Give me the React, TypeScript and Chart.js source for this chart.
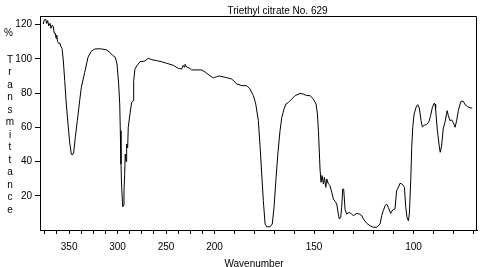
import React, { useEffect, useRef } from "react";
import { Chart, registerables } from "chart.js";

Chart.register(...registerables);

// Wavenumber (x10 cm^-1) and % transmittance
const wavenumber = [
  376.6, 375.6, 374.1, 373.1, 372.1, 371.0, 369.7, 368.7, 367.3, 366.3,
  365.3, 364.2, 363.5, 362.8, 361.8, 360.7, 359.4, 358.4, 357.3, 356.0,
  354.5, 352.9, 351.1, 349.4, 347.7, 346.7, 345.3, 343.6, 341.5, 339.1,
  337.4, 333.9, 330.5, 327.1, 323.6, 318.5, 311.6, 308.1, 304.7, 302.4,
  300.6, 298.9, 297.8, 297.2, 296.5, 295.8, 294.7, 293.7, 293.4, 292.7,
  292.1, 291.3, 291.0, 290.3, 289.6, 289.0, 287.2, 285.5, 284.1, 283.4,
  282.1, 280.3, 276.9, 271.8, 268.4, 264.8, 259.7, 254.5, 249.4, 242.6,
  237.4, 233.9, 232.3, 231.2, 230.5, 228.8, 225.4, 223.6, 213.3, 209.8,
  204.7, 201.3, 200.0, 198.9, 197.7, 194.7, 191.4, 188.8, 186.3, 183.8,
  182.2, 180.5, 179.3, 178.0, 177.1, 176.3, 175.5, 174.6, 173.8, 172.1,
  171.0, 170.1, 169.2, 168.2, 167.1, 166.2, 165.1, 164.1, 162.9, 161.2,
  159.5, 157.0, 155.4, 153.7, 152.0, 150.4, 149.0, 148.3, 147.8, 147.3,
  147.0, 146.5, 146.0, 145.3, 144.8, 144.1, 143.6, 142.8, 142.0, 141.1,
  140.3, 139.4, 138.6, 137.8, 137.3, 136.6, 136.1, 135.6, 135.1, 134.4,
  133.6, 132.3, 131.1, 130.3, 128.5, 127.2, 126.0, 125.2, 123.5, 121.9,
  120.2, 118.5, 116.8, 116.0, 115.2, 114.3, 113.5, 112.7, 111.5, 110.5,
  109.3, 108.5, 107.6, 106.8, 105.9, 105.1, 104.6, 103.9, 103.3, 102.6,
  102.1, 101.4, 100.9, 100.4, 99.7, 98.7, 97.9, 97.1, 96.2, 95.6,
  94.6, 93.4, 92.2, 91.4, 90.6, 89.7, 89.2, 88.9, 88.0, 87.2,
  86.6, 85.9, 85.1, 84.2, 83.4, 83.1, 82.5, 81.7, 80.8, 80.0,
  79.1, 78.3, 77.5, 76.6, 76.1, 75.0, 74.1, 72.8, 71.6, 70.5,
];
const transmittance = [
  120.3, 122.7, 123.1, 120.7, 122.3, 119.2, 120.7, 117.8, 119.7, 118.8,
  114.9, 114.9, 112.0, 113.9, 110.0, 109.0, 109.2, 107.1, 106.1, 99.3,
  87.2, 73.6, 61.9, 51.2, 44.4, 43.8, 45.0, 54.1, 63.9, 75.5,
  83.3, 92.1, 100.9, 104.4, 105.7, 105.9, 105.3, 103.8, 101.8, 100.9,
  97.0, 85.3, 73.6, 58.0, 38.5, 24.9, 13.6, 14.5, 23.0, 32.4,
  44.4, 40.0, 46.0, 50.2, 48.0, 60.0, 67.8, 74.6, 75.5, 87.2,
  94.0, 95.8, 98.3, 98.7, 100.3, 99.5, 98.9, 98.3, 97.4, 96.2,
  94.4, 94.0, 96.2, 95.2, 96.8, 95.2, 94.4, 93.5, 93.5, 92.3,
  90.1, 88.8, 89.2, 89.5, 90.0, 89.2, 88.2, 85.3, 84.3, 84.3,
  82.4, 78.5, 73.6, 63.9, 48.3, 32.7, 17.1, 3.5, 1.9, 1.9,
  3.5, 13.3, 28.8, 44.4, 58.0, 65.8, 70.7, 73.6, 74.5, 76.5,
  78.5, 79.8, 79.4, 78.5, 78.5, 76.5, 73.6, 67.8, 58.0, 44.4,
  35.6, 27.9, 31.8, 26.9, 30.8, 24.9, 29.8, 26.9, 26.0, 22.0,
  18.1, 16.7, 15.2, 9.3, 6.4, 7.4, 13.3, 23.9, 23.9, 11.9,
  9.3, 10.3, 9.3, 8.4, 9.7, 9.3, 8.4, 6.4, 3.9, 2.5,
  1.6, 1.6, 3.5, 8.4, 11.3, 14.2, 15.2, 13.3, 9.7, 11.7,
  12.3, 23.0, 25.0, 27.3, 26.9, 26.0, 25.0, 13.3, 7.4, 5.4,
  9.3, 28.8, 48.3, 60.0, 67.8, 71.7, 73.2, 71.3, 63.9, 60.3,
  61.2, 61.6, 63.5, 66.8, 71.3, 74.0, 73.6, 70.3, 58.0, 50.2,
  45.4, 49.0, 59.0, 62.9, 67.8, 69.7, 66.8, 63.9, 64.3, 62.7,
  60.0, 64.1, 69.7, 73.6, 75.2, 75.2, 73.2, 72.1, 71.3, 71.3,
];

const xMajorTicks = [350, 300, 250, 200, 150, 100];
const xMinorTicksHigh = [375, 362.5, 337.5, 325, 312.5, 287.5, 275, 262.5, 237.5, 225, 212.5];
const xMinorTicksLow = [190, 180, 170, 160, 140, 130, 120, 110, 90, 80, 70];
const yTicks = [20, 40, 60, 80, 100, 120];

const titleText = "Triethyl citrate No. 629";
const yUnitText = "%";
const yTitleText = "Transmittance";
const xTitleText = "Wavenumber";

// piecewise wavenumber axis: scale doubles below 200
const X_START = 380;
const X_BREAK = 200;
const X_END = 68.1;
const HIGH_SCALE = 0.97;
const LOW_SCALE = 1.99;
const toAxis = (w: number) =>
  w >= X_BREAK
    ? (X_START - w) * HIGH_SCALE
    : (X_START - X_BREAK) * HIGH_SCALE + (X_BREAK - w) * LOW_SCALE;

const FONT = "'Liberation Sans', Arial, sans-serif";

export default function App() {
  const ref = useRef<HTMLCanvasElement>(null);

  useEffect(() => {
    const canvas = ref.current;
    if (!canvas) return;
    const allXTicks = [...xMajorTicks, ...xMinorTicksHigh, ...xMinorTicksLow].sort((a, b) => b - a);

    const textPlugin = {
      id: "extraTexts",
      afterDraw(chart: any) {
        const ctx = chart.ctx as CanvasRenderingContext2D;
        const { left, right, top, bottom } = chart.chartArea;
        ctx.save();
        ctx.strokeStyle = "#000";
        ctx.lineWidth = 1;
        ctx.beginPath();
        ctx.moveTo(Math.round(left), Math.round(top) + 0.5);
        ctx.lineTo(Math.round(right) - 0.5, Math.round(top) + 0.5);
        ctx.lineTo(Math.round(right) - 0.5, Math.round(bottom));
        ctx.stroke();

        ctx.fillStyle = "#000";
        ctx.font = `10px ${FONT}`;
        ctx.textAlign = "center";
        ctx.textBaseline = "alphabetic";
        ctx.fillText(titleText, 277.5, 13.5);
        ctx.fillText(yUnitText, 8.5, 36);
        const letters = yTitleText.split("");
        letters.forEach((ch, i) => {
          ctx.fillText(ch, 10, 62.7 + i * 12.5);
        });
        ctx.fillText(xTitleText, 254, 266.5);
        ctx.restore();
      },
    };

    const chart = new Chart(canvas, {
      type: "line",
      data: {
        datasets: [
          {
            data: wavenumber.map((w, i) => ({ x: toAxis(w), y: transmittance[i] })),
            borderColor: "#000",
            borderWidth: 1,
            pointRadius: 0,
            fill: false,
            tension: 0,
          },
        ],
      },
      options: {
        responsive: false,
        animation: false,
        layout: { padding: { top: 16, right: 9, left: 0, bottom: 0 } },
        plugins: {
          legend: { display: false },
          tooltip: { enabled: false },
          title: { display: false },
        },
        scales: {
          x: {
            type: "linear",
            min: 0,
            max: toAxis(X_END),
            afterBuildTicks: (s: any) => {
              s.ticks = allXTicks.map((w) => ({ value: toAxis(w) }));
            },
            afterFit: (s: any) => {
              s.height = 37;
            },
            ticks: {
              autoSkip: false,
              maxRotation: 0,
              minRotation: 0,
              padding: 7,
              color: "#000",
              font: { family: FONT, size: 10 },
              callback: (v: any) => {
                const m = xMajorTicks.find((w) => Math.abs(toAxis(w) - Number(v)) < 1e-6);
                return m === undefined ? "" : String(m);
              },
            },
            grid: {
              drawOnChartArea: false,
              drawTicks: true,
              tickLength: 4,
              color: "#000",
              tickColor: "#000",
            },
            border: { display: true, color: "#000", width: 1 },
          },
          y: {
            type: "linear",
            min: 0,
            max: 125,
            afterBuildTicks: (s: any) => {
              s.ticks = yTicks.map((v) => ({ value: v }));
            },
            afterFit: (s: any) => {
              s.width = 40;
            },
            ticks: {
              padding: 3,
              color: "#000",
              font: { family: FONT, size: 10 },
            },
            grid: {
              drawOnChartArea: false,
              drawTicks: true,
              tickLength: 5,
              color: "#000",
              tickColor: "#000",
            },
            border: { display: true, color: "#000", width: 1 },
          },
        },
      },
      plugins: [textPlugin],
    } as any);

    return () => chart.destroy();
  }, []);

  return (
    <div style={{ position: "fixed", left: 0, top: 0, width: 486, height: 267, background: "#fff" }}>
      <canvas ref={ref} width={486} height={267} style={{ display: "block" }} />
    </div>
  );
}
